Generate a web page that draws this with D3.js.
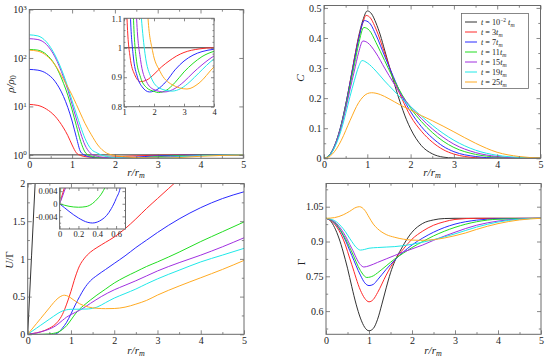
<!DOCTYPE html>
<html><head><meta charset="utf-8">
<script src="https://cdn.jsdelivr.net/npm/d3@7"></script>
<style>
body{margin:0;background:#fff}
svg{display:block}
</style>
</head><body>
<svg id="c" width="550" height="359" style="font-family:'Liberation Serif','Times New Roman',serif"></svg>
<script>
// ---------------- DATA ----------------
const legendCoef = ["10","3","7","11","15","19","25"];
const colors = ["#333333","#ff2a2a","#2a2aff","#22dd22","#a030e0","#20e8e8","#ffaa22"];

// rho/rho0 vs r/rm  (top-left, log scale)
const rhoBlack  = [[0,1],[5,1]];
const rhoRed    = [[0,11],[0.2,10.5],[0.4,8.8],[0.6,6.3],[0.8,3.6],[0.9,2.5],[1.0,1.6],[1.1,1.1],[1.2,0.97],[1.35,0.91],[1.55,0.885],[1.75,0.89],[2.0,0.91],[2.25,0.935],[2.5,0.955],[2.75,0.972],[3.0,0.984],[3.5,0.996],[4,1],[5,1]];
const rhoBlue   = [[0,58],[0.2,56],[0.4,48],[0.6,33],[0.8,16],[0.9,9.5],[1.0,5],[1.1,2.3],[1.2,1.15],[1.3,0.98],[1.45,0.9],[1.6,0.868],[1.85,0.85],[2.1,0.858],[2.4,0.885],[2.7,0.925],[3.0,0.955],[3.3,0.975],[3.6,0.987],[4,0.995],[4.5,0.999],[5,1]];
const rhoGreen  = [[0,150],[0.2,145],[0.4,118],[0.6,72],[0.8,30],[0.9,17],[1.0,8.5],[1.1,4.0],[1.2,1.9],[1.3,1.15],[1.4,0.97],[1.55,0.9],[1.75,0.865],[2.0,0.852],[2.15,0.848],[2.4,0.855],[2.7,0.882],[3.0,0.918],[3.3,0.947],[3.6,0.97],[4,0.988],[4.5,0.997],[5,1]];
const rhoPurple = [[0,250],[0.2,240],[0.4,190],[0.6,105],[0.8,40],[0.9,22],[1.0,11],[1.1,5.5],[1.2,2.8],[1.3,1.6],[1.42,1.1],[1.55,0.96],[1.75,0.885],[2.0,0.858],[2.35,0.85],[2.7,0.862],[3.0,0.885],[3.3,0.915],[3.6,0.942],[4,0.972],[4.5,0.992],[5,1]];
const rhoCyan   = [[0,300],[0.2,285],[0.4,215],[0.6,115],[0.8,45],[0.9,25],[1.0,13],[1.1,7],[1.2,3.8],[1.3,2.2],[1.45,1.3],[1.58,1.1],[1.7,0.98],[1.9,0.9],[2.2,0.862],[2.6,0.853],[2.9,0.862],[3.2,0.885],[3.5,0.915],[4,0.962],[4.5,0.988],[5,1]];
const rhoOrange = [[0,145],[0.2,138],[0.4,112],[0.6,72],[0.8,36],[1.0,17],[1.1,11],[1.2,7],[1.3,4.5],[1.45,2.6],[1.6,1.6],[1.8,1.1],[1.95,0.99],[2.2,0.92],[2.6,0.875],[3.1,0.86],[3.5,0.88],[4,0.935],[4.5,0.975],[5,0.995]];

// C vs r/rm (top-right)
const cBlack  = [[0,0],[0.1,0.006],[0.2,0.025],[0.3,0.06],[0.4,0.11],[0.5,0.175],[0.6,0.25],[0.7,0.33],[0.8,0.405],[0.9,0.46],[1.0,0.49],[1.1,0.48],[1.2,0.45],[1.3,0.41],[1.4,0.36],[1.6,0.26],[1.75,0.19],[1.9,0.13],[2.0,0.098],[2.25,0.042],[2.5,0.015],[2.75,0.004],[3,0.001],[3.5,0],[5,0]];
const cRed    = [[0,0],[0.1,0.007],[0.2,0.028],[0.3,0.064],[0.4,0.113],[0.5,0.178],[0.6,0.252],[0.7,0.33],[0.8,0.4],[0.9,0.452],[0.97,0.475],[1.05,0.47],[1.2,0.43],[1.4,0.35],[1.6,0.268],[1.8,0.198],[2.0,0.14],[2.25,0.09],[2.5,0.054],[2.75,0.029],[3.0,0.014],[3.25,0.006],[3.5,0.002],[4,0],[5,0]];
const cBlue   = [[0,0],[0.1,0.007],[0.2,0.028],[0.3,0.064],[0.4,0.114],[0.5,0.178],[0.6,0.25],[0.7,0.325],[0.8,0.395],[0.93,0.458],[1.05,0.45],[1.2,0.41],[1.4,0.34],[1.6,0.272],[1.8,0.207],[2.0,0.155],[2.25,0.105],[2.5,0.068],[2.75,0.04],[3.0,0.022],[3.5,0.006],[4,0.001],[5,0]];
const cGreen  = [[0,0],[0.1,0.007],[0.2,0.027],[0.3,0.062],[0.4,0.11],[0.5,0.172],[0.6,0.24],[0.7,0.31],[0.8,0.38],[0.92,0.435],[1.05,0.425],[1.2,0.385],[1.4,0.325],[1.6,0.265],[1.8,0.212],[2.0,0.167],[2.25,0.122],[2.5,0.086],[2.75,0.057],[3.0,0.036],[3.5,0.013],[4,0.004],[4.5,0.001],[5,0]];
const cPurple = [[0,0],[0.1,0.006],[0.2,0.026],[0.3,0.06],[0.4,0.105],[0.5,0.163],[0.6,0.228],[0.7,0.29],[0.8,0.352],[0.9,0.39],[1.0,0.385],[1.2,0.35],[1.4,0.3],[1.6,0.252],[1.8,0.207],[2.0,0.172],[2.25,0.132],[2.5,0.098],[2.75,0.07],[3.0,0.047],[3.5,0.019],[4,0.006],[4.5,0.001],[5,0]];
const cCyan   = [[0,0],[0.1,0.006],[0.2,0.024],[0.3,0.054],[0.4,0.095],[0.5,0.148],[0.6,0.205],[0.7,0.258],[0.8,0.305],[0.88,0.325],[1.0,0.317],[1.2,0.29],[1.4,0.257],[1.6,0.227],[1.8,0.197],[2.0,0.172],[2.25,0.14],[2.5,0.11],[2.75,0.083],[3.0,0.06],[3.5,0.027],[4,0.01],[4.5,0.003],[5,0]];
const cOrange = [[0,0],[0.1,0.004],[0.2,0.015],[0.3,0.034],[0.4,0.06],[0.6,0.125],[0.8,0.185],[1.0,0.215],[1.1,0.218],[1.3,0.212],[1.5,0.198],[1.75,0.178],[2.0,0.16],[2.25,0.142],[2.5,0.125],[2.75,0.107],[3.0,0.088],[3.5,0.05],[4,0.02],[4.5,0.006],[5,0.001]];

// U/Gamma vs r/rm (bottom-left)
const uBlack  = [[0,0],[0.09,1.05],[0.18,2.1]];
const uRed    = [[0,0],[0.02,0.002],[0.05,0.005],[0.1,0.009],[0.2,0.018],[0.3,0.032],[0.4,0.052],[0.5,0.08],[0.6,0.115],[0.7,0.17],[0.8,0.26],[0.9,0.4],[1.0,0.57],[1.1,0.76],[1.2,0.91],[1.3,1.0],[1.45,1.09],[1.6,1.15],[1.8,1.22],[2.0,1.29],[2.25,1.4],[2.5,1.53],[2.75,1.67],[3.0,1.8],[3.25,1.93],[3.5,2.06]];
const uBlue   = [[0,0],[0.05,-0.0012],[0.1,-0.0024],[0.2,-0.0045],[0.3,-0.0059],[0.35,-0.0061],[0.4,-0.0058],[0.45,-0.005],[0.5,-0.0037],[0.55,-0.0015],[0.6,0.0016],[0.65,0.006],[0.7,0.02],[0.8,0.08],[0.9,0.16],[1.0,0.27],[1.1,0.39],[1.2,0.5],[1.3,0.6],[1.45,0.71],[1.6,0.78],[1.8,0.86],[2.0,0.94],[2.25,1.04],[2.5,1.15],[2.75,1.25],[3.0,1.35],[3.5,1.53],[4.0,1.68],[4.5,1.8],[5,1.89]];
const uGreen  = [[0,0],[0.1,-0.0008],[0.2,-0.0011],[0.28,-0.0009],[0.35,0.0001],[0.4,0.0015],[0.45,0.0034],[0.48,0.005],[0.55,0.009],[0.6,0.013],[0.7,0.028],[0.8,0.062],[0.9,0.115],[1.0,0.19],[1.1,0.27],[1.2,0.335],[1.3,0.385],[1.45,0.455],[1.6,0.52],[1.8,0.6],[2.0,0.68],[2.25,0.76],[2.5,0.83],[2.75,0.9],[3.0,0.96],[3.5,1.09],[4.0,1.23],[4.5,1.36],[5,1.49]];
const uPurple = [[0,0],[0.02,0.0015],[0.05,0.004],[0.1,0.008],[0.2,0.018],[0.3,0.032],[0.4,0.049],[0.5,0.069],[0.6,0.096],[0.7,0.135],[0.8,0.183],[0.9,0.228],[1.0,0.262],[1.1,0.29],[1.2,0.318],[1.45,0.41],[1.7,0.5],[2.0,0.59],[2.25,0.65],[2.5,0.71],[2.75,0.775],[3.0,0.84],[3.5,0.95],[4.0,1.05],[4.5,1.16],[5,1.28]];
const uCyan   = [[0,0],[0.1,0.04],[0.2,0.08],[0.3,0.12],[0.4,0.16],[0.5,0.2],[0.6,0.24],[0.7,0.278],[0.8,0.308],[0.9,0.325],[1.0,0.332],[1.2,0.333],[1.4,0.336],[1.6,0.36],[1.8,0.42],[2.0,0.48],[2.25,0.54],[2.5,0.6],[2.75,0.67],[3.0,0.735],[3.5,0.85],[4.0,0.96],[4.5,1.05],[5,1.14]];
const uOrange = [[0,0],[0.1,0.07],[0.2,0.14],[0.3,0.21],[0.4,0.28],[0.5,0.35],[0.6,0.42],[0.7,0.478],[0.8,0.513],[0.85,0.518],[0.95,0.5],[1.05,0.46],[1.2,0.405],[1.4,0.362],[1.6,0.345],[1.8,0.34],[2.0,0.342],[2.25,0.36],[2.5,0.4],[2.75,0.45],[3.0,0.52],[3.5,0.64],[4.0,0.75],[4.5,0.86],[5,0.98]];

// Gamma vs r/rm (bottom-right)
const gBlack  = [[0,1],[0.1,0.99],[0.2,0.96],[0.3,0.915],[0.4,0.855],[0.5,0.785],[0.6,0.705],[0.7,0.63],[0.8,0.57],[0.9,0.53],[1.0,0.515],[1.1,0.525],[1.2,0.565],[1.3,0.63],[1.4,0.7],[1.5,0.765],[1.6,0.815],[1.75,0.868],[1.9,0.915],[2.0,0.94],[2.25,0.978],[2.5,0.993],[2.75,0.999],[3,1],[5,1]];
const gRed    = [[0,1],[0.2,0.975],[0.4,0.91],[0.6,0.8],[0.8,0.69],[0.9,0.655],[1.0,0.64],[1.1,0.65],[1.2,0.68],[1.4,0.755],[1.6,0.82],[1.8,0.868],[2.0,0.91],[2.25,0.945],[2.5,0.97],[2.75,0.985],[3,0.995],[3.5,1],[5,1]];
const gBlue   = [[0,1],[0.2,0.98],[0.4,0.925],[0.6,0.84],[0.8,0.755],[0.9,0.722],[1.0,0.71],[1.1,0.715],[1.2,0.735],[1.4,0.78],[1.6,0.82],[1.8,0.855],[2.0,0.885],[2.25,0.915],[2.5,0.94],[2.75,0.96],[3,0.975],[3.5,0.992],[4,0.998],[5,1]];
const gGreen  = [[0,1],[0.2,0.982],[0.4,0.93],[0.6,0.855],[0.8,0.775],[0.95,0.745],[1.1,0.752],[1.2,0.765],[1.4,0.795],[1.6,0.825],[1.8,0.85],[2.0,0.874],[2.25,0.9],[2.5,0.924],[2.75,0.944],[3,0.961],[3.5,0.985],[4,0.996],[5,1]];
const gPurple = [[0,1],[0.2,0.985],[0.4,0.94],[0.6,0.87],[0.8,0.8],[0.88,0.79],[1.0,0.795],[1.2,0.81],[1.4,0.825],[1.6,0.84],[1.8,0.855],[2.0,0.868],[2.25,0.885],[2.5,0.905],[2.75,0.923],[3,0.94],[3.5,0.97],[4,0.988],[4.5,0.997],[5,1]];
const gCyan   = [[0,1],[0.2,0.99],[0.4,0.955],[0.6,0.9],[0.7,0.875],[0.8,0.863],[0.9,0.866],[1.0,0.871],[1.2,0.874],[1.4,0.876],[1.6,0.878],[1.8,0.882],[2.0,0.888],[2.25,0.897],[2.5,0.908],[2.75,0.92],[3,0.933],[3.5,0.962],[4,0.984],[4.5,0.996],[5,1]];
const gOrange = [[0,1],[0.2,1.003],[0.4,1.015],[0.55,1.03],[0.7,1.047],[0.78,1.05],[0.9,1.035],[1.0,1.005],[1.1,0.975],[1.2,0.955],[1.4,0.93],[1.6,0.918],[1.8,0.91],[2.0,0.906],[2.2,0.905],[2.5,0.908],[2.75,0.915],[3,0.925],[3.25,0.937],[3.5,0.952],[4,0.977],[4.5,0.993],[5,1]];

// tick values
const xTicksMain = [0,1,2,3,4,5];
const rhoTicks = [1,10,100,1000];
const cTicks = [0,0.1,0.2,0.3,0.4,0.5];
const uTicks = [0,0.5,1,1.5,2];
const gTicks = [0.6,0.75,0.9,1.05];
const rhoInsetX = [1,2,3,4];
const rhoInsetY = [0.8,0.9,1,1.1];
const uInsetX = [0,0.2,0.4,0.6];
const uInsetY = [-0.004,0,0.004];

// ---------------- DRAW ----------------
const FONT = "'Liberation Serif','Times New Roman',serif";
const svg = d3.select("#c");
const defs = svg.append("defs");
const frameColor = "#6a6a6a";
let cpN = 0;

function range(a,b,s){const r=[];for(let v=a;v<=b+1e-9;v+=s)r.push(+v.toFixed(6));return r;}

function panel(o){
  const g = svg.append("g");
  const x = d3.scaleLinear().domain(o.xd).range([o.x0,o.x1]);
  const y = (o.log?d3.scaleLog():d3.scaleLinear()).domain(o.yd).range([o.y1,o.y0]);
  const w = o.x1-o.x0, h = o.y1-o.y0;
  if(o.inset) g.append("rect").attr("x",o.x0).attr("y",o.y0).attr("width",w).attr("height",h).attr("fill","#fff");
  const cid = "cp"+(cpN++);
  defs.append("clipPath").attr("id",cid).append("rect").attr("x",o.x0).attr("y",o.y0).attr("width",w).attr("height",h);
  const lg = g.append("g").attr("clip-path",`url(#${cid})`);
  const line = d3.line().x(d=>x(d[0])).y(d=>y(d[1])).curve(d3.curveMonotoneX);
  o.series.forEach((s,i)=>{
    lg.append("path").attr("d",line(s)).attr("fill","none").attr("stroke",colors[i]).attr("stroke-width",o.sw||1);
  });
  const ML = o.inset?3:4, NL = o.inset?1.5:2.2;
  const fs = o.fs||10;
  function ax(gen, tr, vals, size, fmt){
    const a = g.append("g").attr("transform",tr)
      .call(gen.tickValues(vals).tickSize(-size).tickPadding(o.pad||3).tickFormat(fmt||(()=>"")));
    a.attr("font-family",FONT).attr("font-size",fs);
    a.select(".domain").remove();
    a.selectAll("line").attr("stroke",frameColor).attr("stroke-width",0.8);
    a.selectAll("text").attr("fill","#222");
    return a;
  }
  ax(d3.axisBottom(x),`translate(0,${o.y1})`,o.xt,ML,o.xf);
  ax(d3.axisTop(x),`translate(0,${o.y0})`,o.xt,ML);
  if(o.xm){ ax(d3.axisBottom(x),`translate(0,${o.y1})`,o.xm,NL); ax(d3.axisTop(x),`translate(0,${o.y0})`,o.xm,NL); }
  const yl = ax(d3.axisLeft(y),`translate(${o.x0},0)`,o.yt,ML,o.yf);
  ax(d3.axisRight(y),`translate(${o.x1},0)`,o.yt,ML);
  if(o.ym){ ax(d3.axisLeft(y),`translate(${o.x0},0)`,o.ym,NL); ax(d3.axisRight(y),`translate(${o.x1},0)`,o.ym,NL); }
  if(o.log){
    yl.selectAll(".tick text").each(function(d){
      const t = d3.select(this); t.text("10");
      t.append("tspan").attr("dy","-0.45em").attr("font-size",fs*0.7).text(Math.round(Math.log10(d)));
    });
  }
  g.append("rect").attr("x",o.x0).attr("y",o.y0).attr("width",w).attr("height",h)
    .attr("fill","none").attr("stroke",frameColor).attr("stroke-width",1);
  return {x,y,g};
}

const fmtPlain = d=>String(d);
const fmtNeg = d=> d<0 ? "-"+String(-d) : String(d);

// Top-left: rho
const rhoAll = [rhoBlack,rhoRed,rhoBlue,rhoGreen,rhoPurple,rhoCyan,rhoOrange];
panel({x0:29.3,x1:243.3,y0:9.5,y1:158.3,xd:[0,5],yd:[0.85,1000],log:true,
  xt:xTicksMain,xm:range(0.5,4.5,1),yt:rhoTicks,xf:fmtPlain,yf:fmtPlain,series:rhoAll,pad:2.5});
panel({x0:124,x1:214,y0:18.3,y1:106.7,xd:[1,4],yd:[0.8,1.1],inset:true,
  xt:rhoInsetX,xm:[1.5,2.5,3.5],yt:rhoInsetY,ym:range(0.82,1.08,0.02).filter(v=>Math.abs(v*10-Math.round(v*10))>1e-6),
  xf:fmtPlain,yf:fmtPlain,series:rhoAll,fs:8.5,pad:2});

// Top-right: C
panel({x0:324,x1:540.5,y0:5.5,y1:158.3,xd:[0,5],yd:[0,0.508],
  xt:xTicksMain,xm:range(0.5,4.5,1),yt:cTicks,ym:range(0.05,0.45,0.1),xf:fmtPlain,yf:fmtPlain,
  series:[cBlack,cRed,cBlue,cGreen,cPurple,cCyan,cOrange],pad:2.5});

// Bottom-left: U/Gamma
const uAll = [uBlack,uRed,uBlue,uGreen,uPurple,uCyan,uOrange];
panel({x0:27.7,x1:244,y0:183.5,y1:334.3,xd:[0,5],yd:[0,2],
  xt:xTicksMain,xm:range(0.5,4.5,1),yt:uTicks,ym:range(0.25,1.75,0.5),xf:fmtPlain,yf:fmtPlain,series:uAll,pad:2.5});
panel({x0:59.6,x1:125.5,y0:188,y1:229,xd:[0,0.7],yd:[-0.008,0.005],inset:true,
  xt:uInsetX,xm:[0.1,0.3,0.5],yt:uInsetY,ym:[-0.006,-0.002,0.002],xf:fmtPlain,yf:fmtNeg,series:uAll,fs:8.5,pad:2});

// Bottom-right: Gamma
panel({x0:326,x1:541,y0:183.5,y1:334.3,xd:[0,5],yd:[0.5,1.15],
  xt:xTicksMain,xm:range(0.5,4.5,1),yt:gTicks,ym:[0.525,0.675,0.825,0.975,1.125],xf:fmtPlain,yf:fmtPlain,
  series:[gBlack,gRed,gBlue,gGreen,gPurple,gCyan,gOrange],pad:2.5});

// ---------------- AXIS TITLES ----------------
function xTitle(cx,cy){
  const t = svg.append("text").attr("x",cx).attr("y",cy).attr("text-anchor","middle").attr("font-size",11).attr("fill","#222");
  t.append("tspan").attr("font-style","italic").text("r/r");
  t.append("tspan").attr("font-style","italic").attr("font-size",8).attr("dy",2).text("m");
}
xTitle(136,176); xTitle(432,176); xTitle(136,354); xTitle(433,354);

function yTitle(cx,cy,build){
  const t = svg.append("text").attr("transform",`translate(${cx},${cy}) rotate(-90)`).attr("text-anchor","middle").attr("font-size",11).attr("fill","#222");
  build(t);
}
yTitle(14,84,t=>{t.append("tspan").attr("font-style","italic").text("ρ/ρ");t.append("tspan").attr("font-size",8).attr("dy",2).text("0");});
yTitle(304,78,t=>{t.append("tspan").attr("font-style","italic").text("C");});
yTitle(13,260,t=>{t.append("tspan").attr("font-style","italic").text("U");t.append("tspan").text("/Γ");});
yTitle(305,262,t=>{t.append("tspan").text("Γ");});

// ---------------- LEGEND ----------------
const lgd = svg.append("g");
lgd.append("rect").attr("x",461.5).attr("y",13.5).attr("width",67).attr("height",75)
  .attr("fill","#fff").attr("stroke",frameColor).attr("stroke-width",0.8);
legendCoef.forEach((c,i)=>{
  const yy = 22 + i*10;
  lgd.append("line").attr("x1",465).attr("x2",477).attr("y1",yy).attr("y2",yy).attr("stroke",colors[i]).attr("stroke-width",1);
  const t = lgd.append("text").attr("x",481).attr("y",yy+3).attr("font-size",8.2).attr("fill","#222");
  t.append("tspan").attr("font-style","italic").text("t");
  if(i===0){
    t.append("tspan").text(" = 10");
    t.append("tspan").attr("dy",-3.5).attr("font-size",5.5).text("−2");
    t.append("tspan").attr("dy",3.5).attr("font-style","italic").text(" t");
  } else {
    t.append("tspan").text(" = "+c);
    t.append("tspan").attr("font-style","italic").text("t");
  }
  t.append("tspan").attr("dy",1.8).attr("font-size",5.8).attr("font-style","italic").text("m");
});
svg.selectAll("text").style("font-family",FONT);
</script>
</body></html>
